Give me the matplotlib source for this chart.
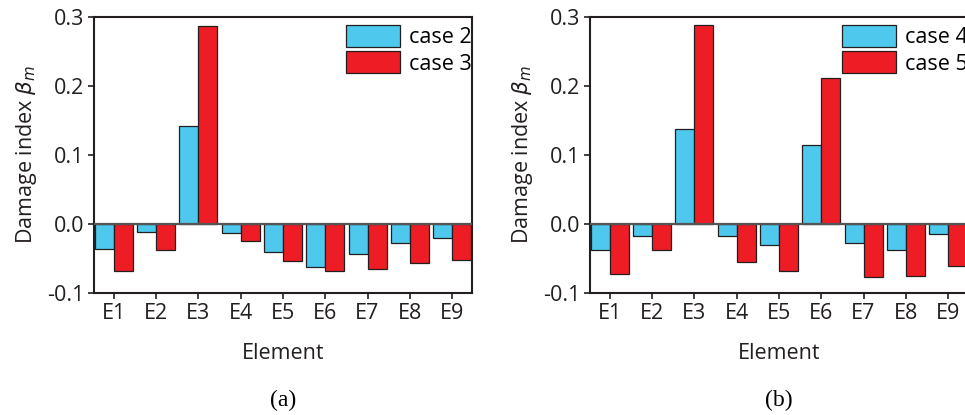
import numpy as np
import matplotlib.pyplot as plt

# data
elements = ["E1", "E2", "E3", "E4", "E5", "E6", "E7", "E8", "E9"]
case2 = [-0.036, -0.011, 0.142, -0.013, -0.040, -0.063, -0.044, -0.028, -0.020]
case3 = [-0.068, -0.038, 0.287, -0.025, -0.053, -0.068, -0.065, -0.056, -0.052]
case4 = [-0.037, -0.018, 0.138, -0.018, -0.030, 0.114, -0.027, -0.037, -0.014]
case5 = [-0.072, -0.037, 0.289, -0.055, -0.068, 0.211, -0.077, -0.076, -0.061]

cyan = "#4EC8EC"
red = "#EE1C24"
dark = "#231F20"

plt.rcParams["font.family"] = ["Open Sans", "DejaVu Sans"]
plt.rcParams["mathtext.fontset"] = "dejavusans"

fig = plt.figure(figsize=(9.65, 4.15), dpi=100)

def panel(pos, s1, s2, labels, tag):
    ax = fig.add_axes(pos)
    x = np.arange(len(elements))
    w = 0.45
    ax.bar(x - w / 2, s1, w, color=cyan, edgecolor=dark, linewidth=0.9, label=labels[0], zorder=2)
    ax.bar(x + w / 2, s2, w, color=red, edgecolor=dark, linewidth=0.9, label=labels[1], zorder=2)
    ax.axhline(0, color="#555555", lw=1.6, zorder=3)
    ax.set_xlim(-0.47, 8.47)
    ax.set_ylim(-0.1, 0.3)
    ax.set_yticks([-0.1, 0.0, 0.1, 0.2, 0.3])
    ax.set_yticklabels(["-0.1", "0.0", "0.1", "0.2", "0.3"])
    ax.set_xticks(x)
    ax.set_xticklabels(elements)
    ax.tick_params(direction="out", length=4, width=1.2, color=dark,
                   labelsize=15.5, labelcolor=dark, pad=3)
    for sp in ax.spines.values():
        sp.set_color(dark)
        sp.set_linewidth(1.5)
    ax.set_ylabel(r"Damage index $\beta_m$", fontsize=15.5, color=dark, labelpad=6)
    ax.set_xlabel("Element", fontsize=15.5, color=dark, labelpad=14)
    ax.legend(loc="upper left", bbox_to_anchor=(0.668, 0.972), frameon=False, fontsize=15.5,
              handlelength=2.5, handleheight=1.2, labelspacing=0.15,
              handletextpad=0.4, borderaxespad=0, borderpad=0)
    ax.text(0.5, -0.39, tag, transform=ax.transAxes, ha="center", va="center",
            fontsize=17, family="Liberation Serif", color="black")
    return ax

panel([0.0974, 0.294, 0.3917, 0.665], case2, case3, ["case 2", "case 3"], "(a)")
panel([0.6114, 0.294, 0.3917, 0.665], case4, case5, ["case 4", "case 5"], "(b)")

fig.savefig("out.png", dpi=100)
